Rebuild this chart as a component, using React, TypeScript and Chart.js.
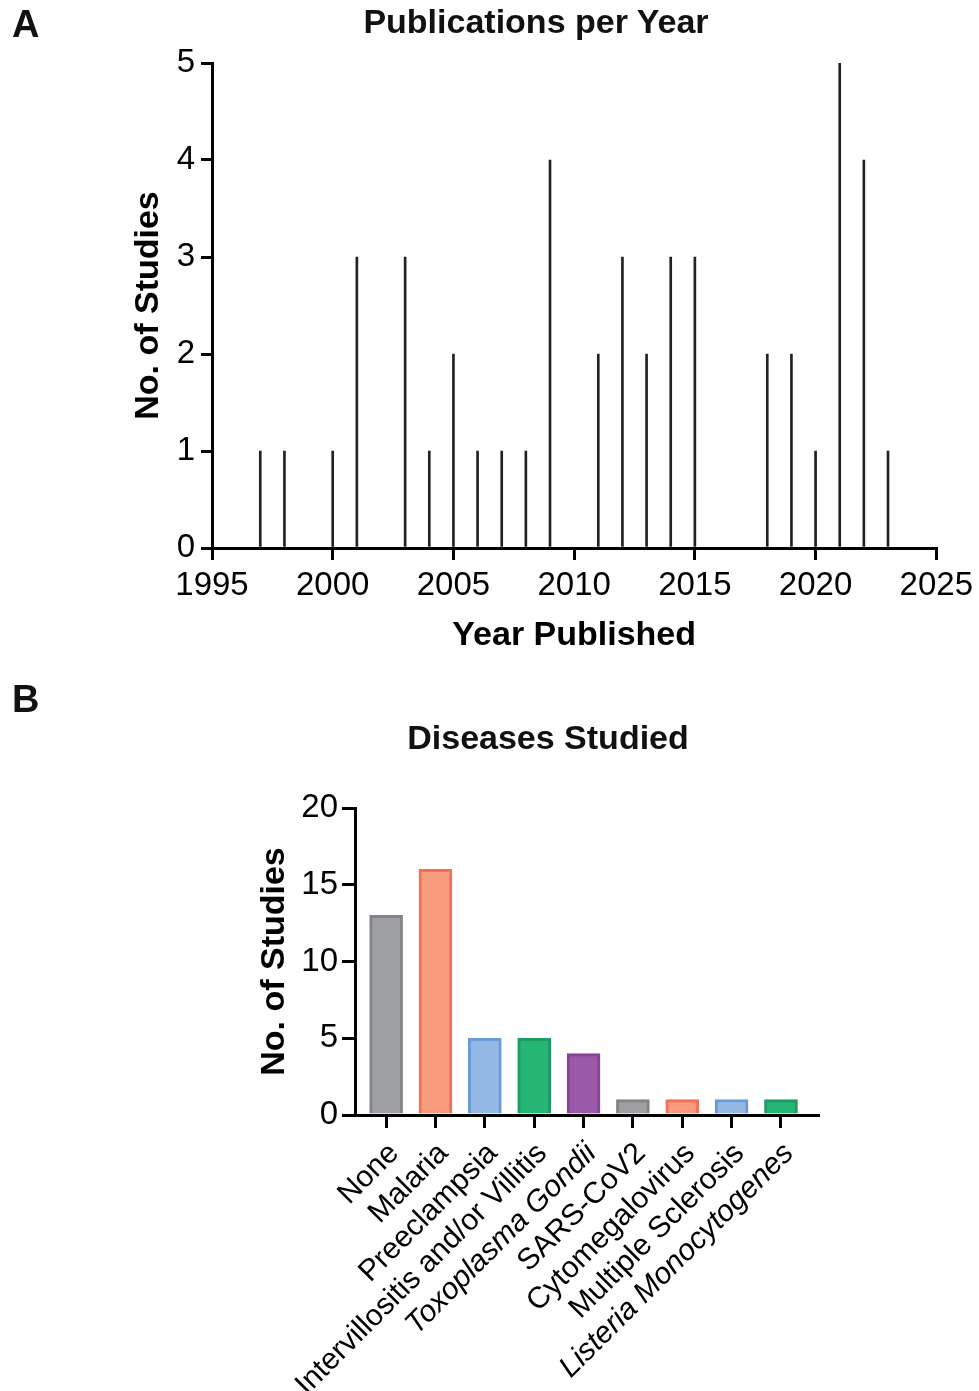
import React, { useEffect, useRef } from "react";
import { Chart, registerables } from "chart.js";

Chart.register(...registerables);

// ---------- Data: panel A ----------
const years = [1997, 1998, 2000, 2001, 2003, 2004, 2005, 2006, 2007, 2008, 2009, 2011, 2012, 2013, 2014, 2015, 2018, 2019, 2020, 2021, 2022, 2023];
const studiesPerYear = [1, 1, 1, 3, 3, 1, 2, 1, 1, 1, 4, 2, 3, 2, 3, 3, 2, 2, 1, 5, 4, 1];
const yearTicks = [1995, 2000, 2005, 2010, 2015, 2020, 2025];
const countTicksA = [0, 1, 2, 3, 4, 5];

// ---------- Data: panel B ----------
const diseases = [
  "None",
  "Malaria",
  "Preeclampsia",
  "Intervillositis and/or Villitis",
  "Toxoplasma Gondii",
  "SARS-CoV2",
  "Cytomegalovirus",
  "Multiple Sclerosis",
  "Listeria Monocytogenes",
];
const diseaseCounts = [13, 16, 5, 5, 4, 1, 1, 1, 1];
const italicLabels = [false, false, false, false, true, false, false, false, true];
const fillColors = ["#9d9fa2", "#f99b7d", "#93b9e4", "#25b574", "#9a5aa8", "#9d9fa2", "#f99b7d", "#93b9e4", "#25b574"];
const borderColors = ["#838485", "#f2705a", "#6b9ad6", "#1e9b61", "#85449a", "#838485", "#f2705a", "#6b9ad6", "#1e9b61"];
const countTicksB = [0, 5, 10, 15, 20];

const FONT = '"Liberation Sans", Arial, Helvetica, sans-serif';

function PanelA() {
  const ref = useRef<HTMLCanvasElement | null>(null);
  useEffect(() => {
    if (!ref.current) return;
    const chart = new Chart(ref.current, {
      type: "bar",
      data: {
        datasets: [
          {
            data: years.map((y, i) => ({ x: y, y: studiesPerYear[i] })),
            backgroundColor: "#222222",
            borderWidth: 0,
            barThickness: 2,
          },
        ],
      },
      options: {
        animation: false,
        responsive: false,
        maintainAspectRatio: false,
        layout: { padding: { left: 128, top: 63, right: 42, bottom: 4 } },
        plugins: { legend: { display: false }, tooltip: { enabled: false }, title: { display: false } },
        scales: {
          x: {
            type: "linear",
            min: 1995,
            max: 2025,
            offset: false,
            afterBuildTicks: (s: any) => {
              s.ticks = yearTicks.map((v) => ({ value: v }));
            },
            afterFit: (s: any) => {
              s.height = 108;
            },
            grid: {
              offset: false,
              drawOnChartArea: false,
              drawTicks: true,
              tickLength: 12,
              tickWidth: 3,
              tickColor: "#000",
              color: "#000",
              lineWidth: 3,
            },
            border: { display: true, color: "#000", width: 3 },
            ticks: {
              color: "#000",
              font: { family: FONT, size: 33 },
              padding: 6,
              maxRotation: 0,
              minRotation: 0,
              autoSkip: false,
              callback: (v: any) => String(v),
            },
            title: {
              display: true,
              text: "Year Published",
              color: "#000",
              font: { family: FONT, size: 34, weight: "bold" },
              padding: 0,
            },
          },
          y: {
            type: "linear",
            min: 0,
            max: 5,
            afterBuildTicks: (s: any) => {
              s.ticks = countTicksA.map((v) => ({ value: v }));
            },
            afterFit: (s: any) => {
              s.width = 84;
            },
            grid: {
              drawOnChartArea: false,
              drawTicks: true,
              tickLength: 11,
              tickWidth: 3,
              tickColor: "#000",
              color: "#000",
              lineWidth: 3,
            },
            border: { display: true, color: "#000", width: 3 },
            ticks: {
              color: "#000",
              font: { family: FONT, size: 33 },
              padding: 6,
              callback: (v: any) => String(v),
            },
            title: {
              display: true,
              text: "No. of Studies",
              color: "#000",
              font: { family: FONT, size: 34, weight: "bold" },
              padding: { top: 0, bottom: 0 },
            },
          },
        },
      } as any,
    });
    return () => chart.destroy();
  }, []);
  return <canvas ref={ref} width={979} height={660} style={{ display: "block" }} />;
}

function PanelB() {
  const ref = useRef<HTMLCanvasElement | null>(null);
  useEffect(() => {
    if (!ref.current) return;
    const chart = new Chart(ref.current, {
      type: "bar",
      data: {
        datasets: [
          {
            data: diseaseCounts.map((c, i) => ({ x: i, y: c })),
            backgroundColor: fillColors,
            borderColor: borderColors,
            borderWidth: 3,
            barThickness: 33,
          },
        ],
      },
      options: {
        animation: false,
        responsive: false,
        maintainAspectRatio: false,
        layout: { padding: { left: 254, top: 128, right: 161, bottom: 0 } },
        plugins: { legend: { display: false }, tooltip: { enabled: false }, title: { display: false } },
        scales: {
          x: {
            type: "linear",
            min: -0.63,
            max: 8.75,
            offset: false,
            afterBuildTicks: (s: any) => {
              s.ticks = diseases.map((_, i) => ({ value: i }));
            },
            afterFit: (s: any) => {
              s.height = 276;
            },
            grid: {
              offset: false,
              drawOnChartArea: false,
              drawTicks: true,
              tickLength: 13,
              tickWidth: 3,
              tickColor: "#000",
              color: "#000",
              lineWidth: 3,
            },
            border: { display: true, color: "#000", width: 3 },
            ticks: {
              color: "#000",
              font: (ctx: any) => {
                const idx = ctx.tick ? ctx.tick.value : ctx.index;
                return { family: FONT, size: 30, style: italicLabels[idx] ? "italic" : "normal" };
              },
              padding: 8,
              labelOffset: 8,
              maxRotation: 45,
              minRotation: 45,
              autoSkip: false,
              callback: (v: any) => diseases[v] ?? "",
            },
          },
          y: {
            type: "linear",
            min: 0,
            max: 20,
            afterBuildTicks: (s: any) => {
              s.ticks = countTicksB.map((v) => ({ value: v }));
            },
            afterFit: (s: any) => {
              s.width = 101;
            },
            grid: {
              drawOnChartArea: false,
              drawTicks: true,
              tickLength: 13,
              tickWidth: 3,
              tickColor: "#000",
              color: "#000",
              lineWidth: 3,
            },
            border: { display: true, color: "#000", width: 3 },
            ticks: {
              color: "#000",
              font: { family: FONT, size: 33 },
              padding: 4,
              callback: (v: any) => String(v),
            },
            title: {
              display: true,
              text: "No. of Studies",
              color: "#000",
              font: { family: FONT, size: 34, weight: "bold" },
              padding: 0,
            },
          },
        },
      } as any,
    });
    return () => chart.destroy();
  }, []);
  return <canvas ref={ref} width={979} height={711} style={{ display: "block" }} />;
}

const textBase: React.CSSProperties = {
  position: "absolute",
  fontFamily: FONT,
  fontWeight: "bold",
  color: "#111",
  whiteSpace: "nowrap",
  margin: 0,
};

export default function App() {
  return (
    <div
      style={{
        position: "absolute",
        left: 0,
        top: 0,
        width: 979,
        height: 1391,
        overflow: "hidden",
        background: "#fff",
      }}
    >
      <div style={{ position: "absolute", left: 0, top: 0 }}>
        <PanelA />
      </div>
      <div style={{ position: "absolute", left: 0, top: 680 }}>
        <PanelB />
      </div>
      <div style={{ ...textBase, left: 12, top: 5, fontSize: 38, lineHeight: "38px" }}>A</div>
      <div style={{ ...textBase, left: 12, top: 680, fontSize: 38, lineHeight: "38px" }}>B</div>
      <div
        style={{
          ...textBase,
          left: 536,
          top: 4,
          fontSize: 34,
          lineHeight: "34px",
          transform: "translateX(-50%)",
        }}
      >
        Publications per Year
      </div>
      <div
        style={{
          ...textBase,
          left: 548,
          top: 720,
          fontSize: 34,
          lineHeight: "34px",
          transform: "translateX(-50%)",
        }}
      >
        Diseases Studied
      </div>
    </div>
  );
}
